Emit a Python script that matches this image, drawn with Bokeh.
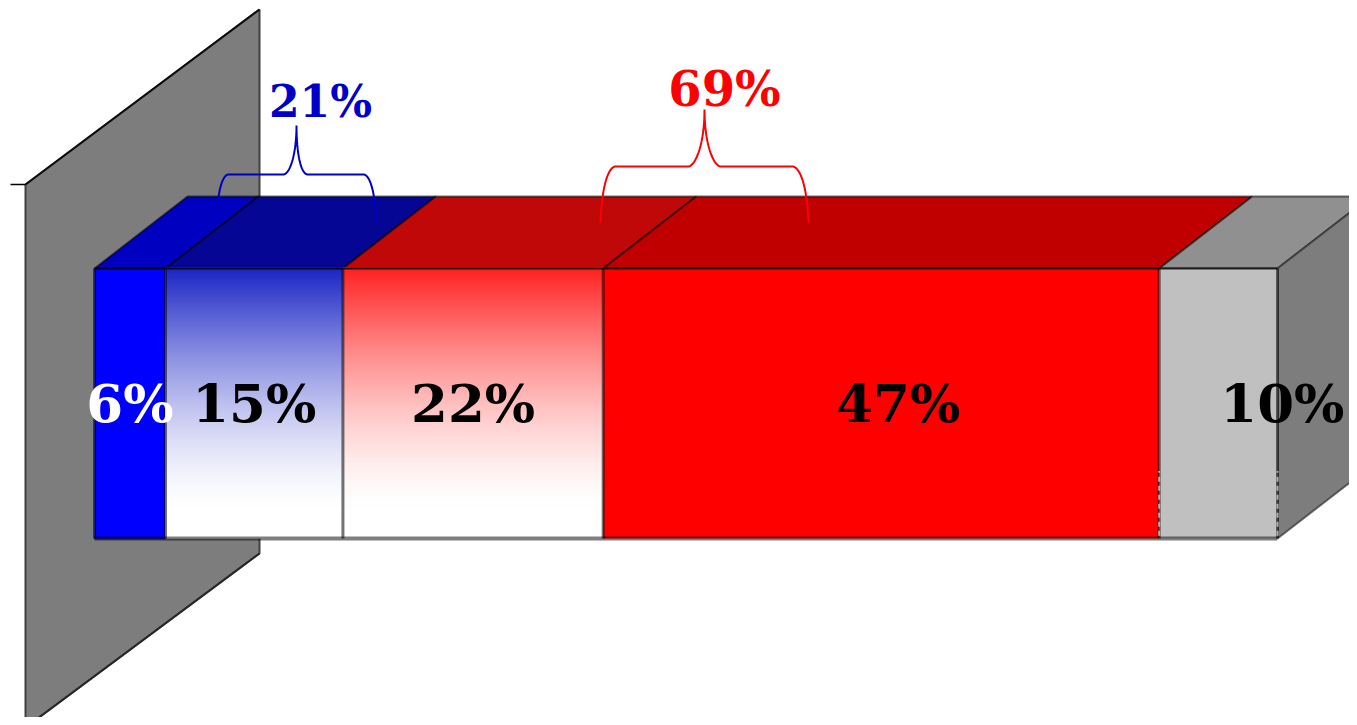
from bokeh.plotting import figure
from bokeh.embed import file_html
from bokeh.resources import INLINE
from bokeh.core.properties import value

# ---- data ----
categories = ["a", "b", "c", "d", "e"]
shares = [6, 15, 22, 47, 10]
share_labels = ["6%", "15%", "22%", "47%", "10%"]
label_colors = ["#ffffff", "#000000", "#000000", "#000000", "#000000"]
group_labels = ["21%", "69%"]
group_colors = ["#0000c8", "#ff0000"]

front_top_colors = ["#0000ff", "#1a24c4", "#ff2020", "#ff0000", "#c0c0c0"]
front_is_gradient = [False, True, True, False, False]
roof_colors = ["#0000c0", "#060694", "#c00808", "#c00000", "#909090"]

# ---- page geometry: figure pixels <-> chart units ----
# 8px page margin + 1349 x 717 reaches the window edge without passing it
W, H = 1349, 717
PX0, PX100 = 94, 1277      # pixel of 0 % and 100 %
PYBASE, PYTOP = 538, 268   # pixel of bar foot and bar head
UX = (PX100 - PX0) / 100
UY = PYBASE - PYTOP


def X(px):
    return (px - PX0) / UX


def Y(py):
    return (PYBASE - py) / UY


DX = 93 / UX   # receding depth
DY = 72 / UY

p = figure(width=W, height=H, output_backend="svg", toolbar_location=None,
           x_range=(X(0), X(W)), y_range=(Y(H), Y(0)),
           x_axis_location=None, y_axis_location=None, min_border=0,
           outline_line_color=None, background_fill_color="#ffffff",
           border_fill_color="#ffffff")
p.grid.visible = False

# back wall
p.patch([X(25), X(259), X(259), X(25)], [Y(184), Y(9), Y(553), Y(727)],
        fill_color="#7d7d7d", line_color="#404040", line_width=2)
p.line([X(25), X(259)], [Y(184), Y(9)], line_color="#000000", line_width=2, line_alpha=0.8)
p.line([X(25), X(259)], [Y(727), Y(553)], line_color="#202020", line_width=2, line_alpha=0.8)
p.line([X(10), X(25)], [Y(184), Y(184)], line_color="#000000", line_width=1.5)

# cumulative positions
edges = [0]
for s in shares:
    edges.append(edges[-1] + s)

# roof
for i, c in enumerate(roof_colors):
    a, b = edges[i], edges[i + 1]
    p.patch([a, b, b + DX, a + DX], [1, 1, 1 + DY, 1 + DY],
            fill_color=c, line_color="#000000", line_alpha=0.55, line_width=2)

# right-hand side
end = edges[-1]
p.patch([end, end + DX, end + DX, end], [0, DY, 1 + DY, 1],
        fill_color="#7d7d7d", line_color="#303030", line_alpha=0.7, line_width=2)

# front faces
BANDS = 120
FADE_END = 0.104  # height (bar units) where the fade has reached white
for i, c in enumerate(front_top_colors):
    a, b = edges[i], edges[i + 1]
    if front_is_gradient[i]:
        r0, g0, b0 = int(c[1:3], 16), int(c[3:5], 16), int(c[5:7], 16)
        p.quad(left=[a], right=[b], bottom=[0], top=[1], fill_color="#ffffff", line_color=None)
        for k in range(BANDS):
            y0 = k / BANDS
            y1 = (k + 1) / BANDS
            s_ = min(1.0, max(0.0, (1 - (y0 + y1) / 2) / (1 - FADE_END)))
            t = 1 - (1 - s_) ** 1.5
            col = "#%02x%02x%02x" % (round(r0 + (255 - r0) * t),
                                      round(g0 + (255 - g0) * t),
                                      round(b0 + (255 - b0) * t))
            p.quad(left=[a], right=[b], bottom=[y0], top=[y1 + 0.006], fill_color=col, line_color=None)
    else:
        p.quad(left=[a], right=[b], bottom=[0], top=[1], fill_color=c, line_color=None)

# segment borders
for e in edges:
    p.line([e, e], [0, 1], line_color="#000000", line_alpha=0.55, line_width=3)
p.line([edges[0], edges[-1]], [0, 0], line_color="#000000", line_alpha=0.5, line_width=4)
p.line([edges[0], edges[-1]], [1, 1], line_color="#000000", line_alpha=0.8, line_width=2)
p.line([edges[0], edges[1]], [0, 0], line_color="#000040", line_alpha=0.6, line_width=2)

# broken edge pieces near the foot of the grey segment
for e in edges[-2:]:
    p.line([e, e], [0.01, 0.25], line_color="#b0b0b0", line_width=2, line_dash="5 4")

# percentage labels inside the bar
LABEL_SHIFT = [0, 0, 0, 17 / UX, 64 / UX]
lx = [(edges[i] + edges[i + 1]) / 2 + LABEL_SHIFT[i] for i in range(len(shares))]
p.text(lx, [Y(402)] * len(lx), text=share_labels, text_color=label_colors,
       text_font=value("DejaVu Serif"), text_font_style="bold",
       text_font_size=value("53px"), text_align="center", text_baseline="alphabetic")


def bez(p0, p1, p2, p3, n=24):
    pts = []
    for k in range(n + 1):
        t = k / n
        u = 1 - t
        pts.append((u**3 * p0[0] + 3 * u * u * t * p1[0] + 3 * u * t * t * p2[0] + t**3 * p3[0],
                    u**3 * p0[1] + 3 * u * u * t * p1[1] + 3 * u * t * t * p2[1] + t**3 * p3[1]))
    return pts


def brace(tip, ybar, lj, rj, lh, rh, lend, rend, color):
    pts = bez(lend, (lend[0] + 2, ybar + 8), (lh - 4, ybar), (lh, ybar))
    pts += [(lj, ybar)]
    pts += bez((lj, ybar), (lj + 7, ybar - 1), (tip[0], ybar - 22), tip)
    pts += bez(tip, (tip[0], ybar - 22), (rj - 7, ybar - 1), (rj, ybar))
    pts += [(rh, ybar)]
    pts += bez((rh, ybar), (rh + 4, ybar), (rend[0] - 2, ybar + 8), rend)
    p.line([X(q[0]) for q in pts], [Y(q[1]) for q in pts], line_color=color, line_width=2)


brace((296, 125), 174, 283, 307, 228, 363, (218, 197), (376, 222), group_colors[0])
brace((704, 109), 166, 688, 720, 615, 792, (600, 222), (808, 222), group_colors[1])

p.text([X(320)], [Y(101)], text=[group_labels[0]], text_color=group_colors[0],
       text_font=value("DejaVu Serif"), text_font_style="bold",
       text_font_size=value("44px"), text_align="center", text_baseline="alphabetic")
p.text([X(724)], [Y(88)], text=[group_labels[1]], text_color=group_colors[1],
       text_font=value("DejaVu Serif"), text_font_style="bold",
       text_font_size=value("48px"), text_align="center", text_baseline="alphabetic")

open("out.html", "w").write(file_html(p, INLINE))
